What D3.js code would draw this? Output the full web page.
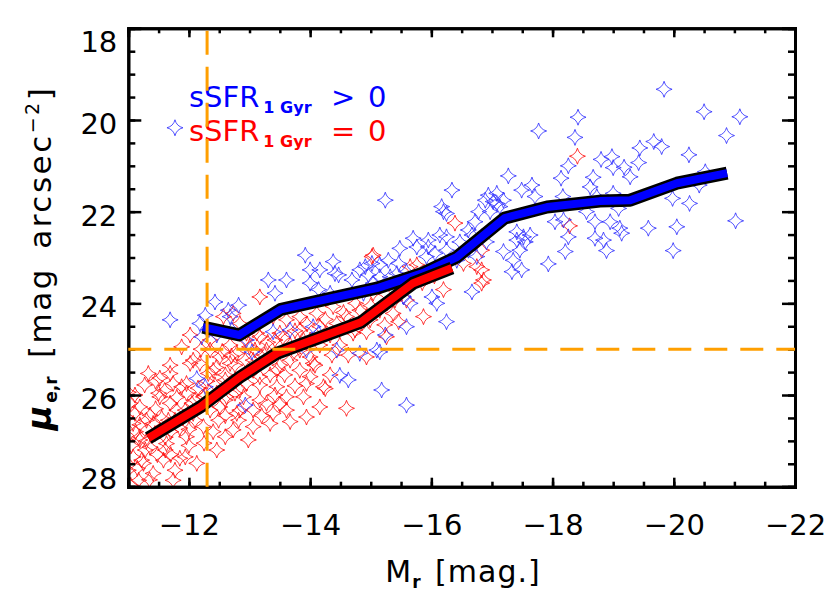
<!DOCTYPE html>
<html><head><meta charset="utf-8">
<script src="https://cdn.jsdelivr.net/npm/d3@7"></script>
<style>body{margin:0;background:#fff} svg text{font-family:"DejaVu Sans",sans-serif}</style>
</head><body><svg id="c" width="830" height="594"></svg>
<script>
// ---------- data ----------
const xMajorTicks = [-12, -14, -16, -18, -20, -22];
const yMajorTicks = [18, 20, 22, 24, 26, 28];
const cutMr = -12.3;
const cutMu = 25.0;
const blueMedian = [[-12.23,24.52],[-12.83,24.69],[-13.52,24.13],[-14.33,23.89],[-15.10,23.67],[-15.86,23.34],[-16.42,22.99],[-17.21,22.14],[-17.91,21.90],[-18.78,21.77],[-19.28,21.75],[-20.05,21.38],[-20.88,21.16]];
const redMedian = [[-11.33,26.94],[-12.19,26.26],[-12.84,25.61],[-13.45,25.09],[-14.84,24.41],[-15.70,23.56],[-16.34,23.23]];
const blueStars = [[-19.84,19.33],[-20.50,19.82],[-21.09,19.93],[-20.87,20.34],[-18.42,19.94],[-17.77,20.24],[-18.37,20.38],[-19.44,20.61],[-19.67,20.47],[-19.80,20.58],[-20.25,20.76],[-19.42,20.93],[-18.80,20.86],[-18.98,20.80],[-19.00,21.04],[-19.18,21.03],[-19.28,21.24],[-18.26,21.00],[-18.14,21.27],[-18.67,21.25],[-18.62,21.46],[-18.17,21.67],[-18.73,21.67],[-19.00,21.60],[-19.09,21.93],[-18.56,22.00],[-18.70,22.22],[-18.95,22.22],[-19.11,22.36],[-18.04,22.22],[-18.18,22.18],[-16.34,21.53],[-17.27,21.22],[-17.66,21.42],[-17.49,21.53],[-17.71,21.67],[-16.94,21.64],[-17.08,21.60],[-17.02,21.78],[-17.19,21.75],[-17.13,21.89],[-16.17,21.89],[-16.20,22.00],[-16.78,22.00],[-16.72,22.22],[-16.97,22.00],[-19.98,21.71],[-20.26,21.82],[-20.42,21.42],[-20.52,21.13],[-21.02,22.20],[-19.58,22.36],[-20.05,22.33],[-15.70,22.58],[-15.95,22.62],[-16.14,22.51],[-17.41,22.44],[-17.52,22.55],[-17.63,22.51],[-19.14,22.47],[-16.67,22.51],
[-19.99,22.85],[-18.89,22.85],[-18.84,22.62],[-18.70,22.58],[-18.26,22.55],[-18.21,22.87],[-17.93,23.14],[-17.41,22.62],[-17.55,22.66],[-17.19,22.87],[-17.35,23.06],[-17.49,23.27],[-17.33,23.31],[-17.46,22.84],[-16.91,22.66],
[-15.24,21.75],[-16.25,22.04],[-16.89,21.75],[-17.08,21.82],[-13.92,22.95],[-14.38,23.09],[-14.16,23.27],[-14.00,23.27],[-14.41,23.35],[-14.00,23.56],[-14.69,23.49],[-14.91,23.20],[-15.02,23.13],[-15.15,23.16],[-15.29,23.06],[-15.46,23.13],[-15.48,22.80],[-15.76,22.77],[-15.95,22.77],[-16.25,22.55],[-16.06,22.91],[-15.92,22.98],[-16.25,22.84],[-16.47,22.66],[-16.61,22.40],[-16.83,22.55],[-16.61,22.84],[-16.75,22.98],[-16.42,23.06],[-15.15,23.42],[-15.32,23.42],[-15.43,23.35],[-15.59,23.31],[-14.96,23.38],[-14.82,23.27],[-16.01,23.86],[-16.09,24.00],[-16.67,23.75],[-16.25,24.40],[-15.59,24.51],[-15.24,24.69],[-15.15,25.06],[-14.82,25.09],[-14.49,25.57],[-14.63,25.67],[-15.18,25.89],[-15.59,26.22],[-14.05,24.51],
[-13.31,23.49],[-13.61,23.49],[-13.42,23.78],[-14.47,23.38],[-14.14,23.70],[-14.33,23.78],[-14.88,23.78],[-15.04,23.56],[-15.54,23.86],[-15.65,24.00],[-12.43,23.97],[-12.65,24.15],[-12.68,24.29],[-12.82,24.04],[-12.18,24.44],[-12.27,24.26],[-11.69,24.36],[-12.21,24.73],[-12.46,24.69],[-12.71,24.58],[-12.95,24.80],[-13.04,25.06],[-13.39,24.62],[-13.67,24.58],[-14.14,24.65],[-13.94,25.02],[-14.44,25.02],[-15.10,25.02],[-12.13,25.64],[-12.27,25.82],[-12.93,26.22],[-11.77,20.17]];
const redStars = [[-18.41,20.79],[-18.28,22.31],[-16.39,22.25],[-16.83,22.84],[-16.83,23.27],[-16.86,23.49],[-15.02,22.98],[-15.76,23.16],[-15.65,23.20],[-15.87,24.29],[-15.46,24.40],[-16.75,23.20],[-16.83,23.56],[-14.93,25.17],[-14.36,25.13],[-14.63,25.13],[-14.25,25.86],[-13.94,25.75],[-14.05,25.31],[-14.60,26.29],[-15.26,24.73],[-16.53,23.13],[-14.93,24.62],
[-15.04,22.95],[-11.88,24.95],[-11.33,25.53],[-14.00,25.17],[-13.72,25.09],[-13.67,26.58],[-12.98,26.98],[-12.46,27.20],[-11.85,27.38],[-11.41,27.71],[-11.17,27.86],[-11.52,26.04],[-11.69,26.18],[-11.96,25.75],[-11.80,26.33],[-12.07,26.40],[-12.51,26.26],[-12.79,26.40],[-13.06,26.33],[-13.28,26.18],[-13.39,26.40],[-13.06,26.69],[-12.73,26.76],[-12.24,26.69],[-11.96,26.91],[-11.63,27.06],[-11.19,26.91],[-11.08,27.35],[-11.25,27.49],[-11.58,27.42],[-12.13,27.49],[-11.74,27.86],[-11.08,26.62],[-11.41,26.62],[-11.03,26.18],[-11.19,26.26],[-12.68,25.31],[-12.40,25.46],[-12.51,25.17],[-12.79,25.09],[-13.06,25.24],[-13.28,25.02],[-13.17,25.60],[-12.95,25.75],[-12.62,25.82],[-12.46,25.96],[-13.45,25.82],[-13.61,26.04],[-13.34,26.62],[-13.89,26.04],[-14.16,26.26],[-13.94,26.48],[-13.61,26.33],[-13.50,24.65],[-13.89,24.80],[-14.16,24.51],[-14.44,24.44],[-14.71,24.65],[-14.93,24.29],[-15.15,24.15],[-15.37,24.22],[-15.59,23.93],[-14.38,24.07],[-14.11,24.22],[-13.83,24.29],[-13.61,24.36],[-14.60,24.29],[-14.82,24.15],[-15.04,23.78],[-13.17,23.86],[-13.39,24.29],[-12.84,24.44],[-12.57,24.29],[-12.95,24.65],[-13.17,24.73],[-12.35,25.02],[-12.07,25.24],[-11.69,25.53],[-12.24,26.04],[-11.96,25.96],
[-12.73,24.22],[-13.12,24.65],[-14.22,25.82],[-13.45,25.46],[-13.06,25.46],[-12.90,26.04],[-12.62,26.04],
[-12.02,25.31],[-11.50,25.96],[-11.11,26.40],[-11.28,27.20],[-11.94,27.35],[-12.60,26.91],[-11.77,27.64],[-12.05,26.18],[-11.88,25.82],[-11.00,25.94],[-12.32,25.53],[-12.60,25.67],[-12.76,25.96],[-12.82,26.55],[-12.49,26.55],[-11.66,26.55],[-11.44,26.84],[-11.22,27.42],[-11.61,27.20],
[-12.18,25.31],[-11.74,25.75],[-11.04,27.97],[-11.00,27.64],
[-11.19,26.65],[-11.36,26.44],[-11.52,26.77],[-11.77,26.55],[-11.94,26.33],[-12.10,26.11],[-12.27,26.00],[-12.43,25.78],[-12.60,25.56],[-12.76,25.35],[-12.93,25.24],[-13.09,25.02],[-11.19,26.98],[-11.36,27.14],[-11.61,26.92],[-11.85,26.72],[-12.10,26.55],[-12.35,26.33],[-12.60,26.11],[-12.84,25.89],[-13.17,25.78],[-13.34,25.56],[-13.50,25.35],[-13.67,25.24],[-13.83,25.02],[-11.11,26.00],[-11.27,25.78],[-11.52,25.63],[-11.69,25.35],[-12.35,24.80],[-12.02,24.69],[-12.68,24.91],[-12.93,24.80],
[-14.00,24.80],[-14.16,24.91],[-14.33,24.69],[-13.67,24.91],[-13.83,24.58],[-14.49,24.91],[-14.74,24.58],[-14.99,24.36],[-15.23,24.47],[-15.40,23.93],[-13.42,24.80],[-13.25,25.13],[-13.58,25.56],[-13.83,25.46],[-14.08,25.35],[-14.33,25.56],[-13.17,26.11],[-13.42,26.00],[-12.84,26.33],
[-11.05,27.10],[-11.12,26.80],[-11.30,26.55],[-11.45,26.30],[-11.30,27.00],[-11.48,27.30],[-11.15,27.60],[-11.35,27.85],[-11.55,26.50],[-11.70,26.80],[-11.90,26.50],[-12.00,26.75],[-11.45,25.70],[-11.60,25.90],[-11.80,26.05],[-12.15,25.85],[-12.30,25.70],[-12.45,25.40],[-12.55,25.05],[-12.20,25.00],[-12.70,25.15],[-13.00,24.95],[-13.30,24.85],[-13.55,24.75],[-13.75,24.60],[-13.95,24.45],[-14.25,24.35],[-14.55,24.20],[-14.75,24.00],[-15.00,24.05],[-15.25,23.80],[-15.45,23.65],[-15.85,23.55],[-16.05,23.40],[-16.20,23.70],[-12.40,26.80],[-12.25,27.05],[-12.60,26.45],[-13.20,26.45],[-13.50,26.20],[-13.75,25.80],[-14.00,25.60],[-12.00,27.10],[-11.70,27.30]];

// ---------- chart ----------
const W = 830, H = 594;
const svg = d3.select('#c');
svg.append('rect').attr('width', W).attr('height', H).attr('fill', '#fff');
const x = d3.scaleLinear().domain([-11, -22]).range([128.3, 795]);
const y = d3.scaleLinear().domain([18, 28]).range([28.3, 486.7]);
const xMinor = d3.range(-11, -22.01, -0.5);
const yMinor = d3.range(18, 28.01, 0.5);

svg.append('defs').append('clipPath').attr('id', 'plot')
  .append('rect').attr('x', x(-11)).attr('y', y(18))
  .attr('width', x(-22) - x(-11)).attr('height', y(28) - y(18));

const starPath = r => { const c = r * 0.2;
  return `M0,${-r}Q${c},${-c} ${r},0Q${c},${c} 0,${r}Q${-c},${c} ${-r},0Q${-c},${-c} 0,${-r}Z`; };
const plot = svg.append('g').attr('clip-path', 'url(#plot)');
function stars(data, color) {
  plot.append('g').selectAll('path').data(data).join('path')
    .attr('d', starPath(8))
    .attr('transform', d => `translate(${x(d[0])},${y(d[1])})`)
    .attr('fill', 'none').attr('stroke', color).attr('stroke-width', 0.85);
}
stars(redStars, '#ff1010');
stars(blueStars, '#3030ff');

const line = d3.line().x(d => x(d[0])).y(d => y(d[1]));
function median(data, color) {
  plot.append('path').attr('d', line(data)).attr('fill', 'none')
    .attr('stroke', '#000').attr('stroke-width', 13).attr('stroke-linejoin', 'round');
  plot.append('path').attr('d', line(data)).attr('fill', 'none')
    .attr('stroke', color).attr('stroke-width', 8).attr('stroke-linejoin', 'round');
}
median(blueMedian, '#0000ff');
median(redMedian, '#ff0000');

// axes
function styleAxis(g) {
  g.attr('font-family', '"DejaVu Sans", sans-serif').attr('font-size', 29);
  g.selectAll('.domain').attr('stroke', '#000').attr('stroke-width', 3);
  g.selectAll('.tick line').attr('stroke', '#000').attr('stroke-width', 2.5);
  g.selectAll('.tick text').attr('fill', '#000');
}
const fmt = d => '\u2212' + Math.abs(d);
// bottom
svg.append('g').attr('transform', `translate(0,${y(28)})`)
  .call(d3.axisBottom(x).tickValues(xMinor).tickSize(-5).tickFormat('')).call(styleAxis);
svg.append('g').attr('transform', `translate(0,${y(28)})`)
  .call(d3.axisBottom(x).tickValues(xMajorTicks).tickSize(-9).tickFormat(fmt)).call(styleAxis)
  .selectAll('.tick text').attr('y', 48).attr('dy', 0);
// top
svg.append('g').attr('transform', `translate(0,${y(18)})`)
  .call(d3.axisTop(x).tickValues(xMinor).tickSize(-5).tickFormat('')).call(styleAxis);
svg.append('g').attr('transform', `translate(0,${y(18)})`)
  .call(d3.axisTop(x).tickValues(xMajorTicks).tickSize(-9).tickFormat('')).call(styleAxis);
// left
svg.append('g').attr('transform', `translate(${x(-11)},0)`)
  .call(d3.axisLeft(y).tickValues(yMinor).tickSize(-7).tickFormat('')).call(styleAxis);
const yl = svg.append('g').attr('transform', `translate(${x(-11)},0)`)
  .call(d3.axisLeft(y).tickValues(yMajorTicks).tickSize(-13).tickPadding(11).tickFormat(d3.format('d'))).call(styleAxis);
yl.selectAll('.tick text').attr('dy', d => d === 18 ? 23.5 : d === 28 ? 1.5 : 13.5);
// right
svg.append('g').attr('transform', `translate(${x(-22)},0)`)
  .call(d3.axisRight(y).tickValues(yMinor).tickSize(-7).tickFormat('')).call(styleAxis);
svg.append('g').attr('transform', `translate(${x(-22)},0)`)
  .call(d3.axisRight(y).tickValues(yMajorTicks).tickSize(-13).tickFormat('')).call(styleAxis);

// axis titles
const xt = svg.append('text').attr('x', 463).attr('y', 582).attr('text-anchor', 'middle')
  .attr('font-size', 30).attr('letter-spacing', 1).attr('word-spacing', 3).attr('fill', '#000');
xt.append('tspan').text('M');
xt.append('tspan').attr('font-size', 17).attr('font-weight', 'bold').attr('dy', 6).text('r');
xt.append('tspan').attr('dy', -6).text(' [mag.]');

const yt = svg.append('text').attr('transform', 'translate(51,258) rotate(-90)')
  .attr('text-anchor', 'middle').attr('font-size', 31).attr('letter-spacing', 2.5)
  .attr('word-spacing', 6).attr('fill', '#000');
yt.append('tspan').attr('font-weight', 'bold').attr('font-style', 'italic').attr('font-size', 34).text('\u03bc');
yt.append('tspan').attr('font-size', 17).attr('font-weight', 'bold').attr('letter-spacing', 0).attr('dy', 6).text('e,r');
yt.append('tspan').attr('dy', -6).text(' [mag arcsec');
yt.append('tspan').attr('font-size', 19).attr('dy', -12).text('\u22122');
yt.append('tspan').attr('dy', 12).text(']');

// legend
const legendItems = [
  { color: '#0000ff', rel: '>', base: 107 },
  { color: '#ff0000', rel: '=', base: 141 }
];
legendItems.forEach(it => {
  const t = svg.append('text').attr('x', 189).attr('y', it.base).attr('fill', it.color).attr('font-size', 29);
  t.append('tspan').text('sSFR');
  t.append('tspan').attr('font-size', 16).attr('font-weight', 'bold').attr('dx', 4).attr('dy', 6).text('1 Gyr');
  svg.append('text').attr('x', 331).attr('y', it.base).attr('fill', it.color).attr('font-size', 29).text(it.rel);
  svg.append('text').attr('x', 368).attr('y', it.base).attr('fill', it.color).attr('font-size', 29).text('0');
});

// cut lines
svg.append('line').attr('x1', x(cutMr)).attr('x2', x(cutMr)).attr('y1', y(28)).attr('y2', y(18))
  .attr('stroke', '#ff9f00').attr('stroke-width', 3).attr('stroke-dasharray', '24,12');
svg.append('line').attr('x1', x(-11)).attr('x2', x(-22)).attr('y1', y(cutMu)).attr('y2', y(cutMu))
  .attr('stroke', '#ff9f00').attr('stroke-width', 3).attr('stroke-dasharray', '23,13');
</script></body></html>
